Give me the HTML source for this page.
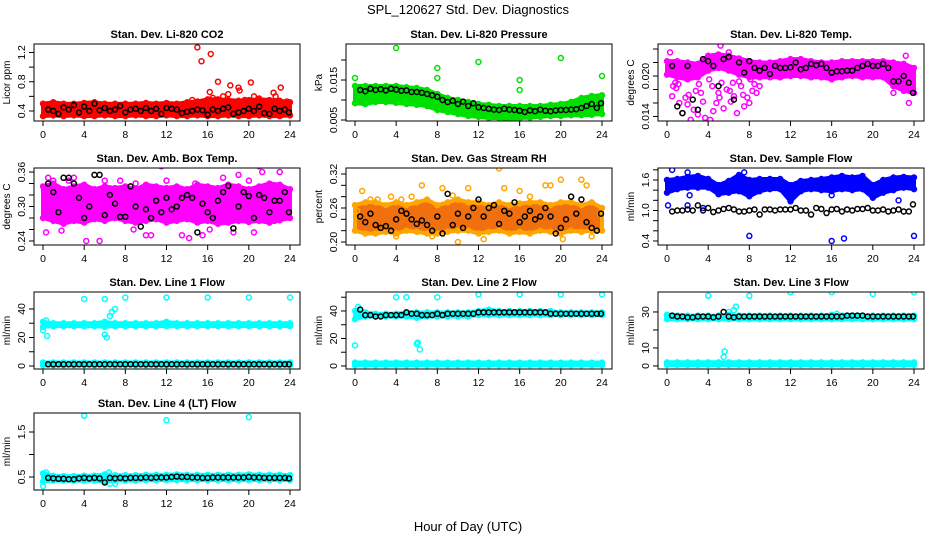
<!DOCTYPE html>
<html><head><meta charset="utf-8"><style>
body{margin:0;background:#fff;}
svg{display:block;font-family:"Liberation Sans",sans-serif;}
</style></head><body>
<svg id="chart" width="936" height="540" viewBox="0 0 936 540">
<rect x="0" y="0" width="936" height="540" fill="#fff"/>
<text x="468" y="14" text-anchor="middle" font-size="13">SPL_120627  Std. Dev. Diagnostics</text>
<text x="468" y="531" text-anchor="middle" font-size="13">Hour of Day (UTC)</text>
</svg>
<script>
// ---------- data ----------
const HOURS = [0,1,2,3,4,5,6,7,8,9,10,11,12,13,14,15,16,17,18,19,20,21,22,23,24];
const HALF_HOURS = [0.5,1,1.5,2,2.5,3,3.5,4,4.5,5,5.5,6,6.5,7,7.5,8,8.5,9,9.5,10,10.5,11,11.5,12,12.5,13,13.5,14,14.5,15,15.5,16,16.5,17,17.5,18,18.5,19,19.5,20,20.5,21,21.5,22,22.5,23,23.5,23.9];
const XTICKS = [0,4,8,12,16,20,24];

// P1 CO2
const co2Lo = [0.33,0.34,0.33,0.34,0.33,0.33,0.34,0.33,0.33,0.34,0.33,0.33,0.34,0.33,0.33,0.34,0.33,0.33,0.34,0.33,0.33,0.34,0.33,0.33,0.34];
const co2Hi = [0.50,0.52,0.50,0.50,0.51,0.52,0.50,0.50,0.50,0.50,0.51,0.50,0.51,0.50,0.52,0.53,0.56,0.56,0.55,0.54,0.55,0.56,0.55,0.54,0.52];
const co2OutX = [15,15.4,16.3,17,18.2,20.2,19,19.1,22.4,22.6,23.1,16.2,17.5,18,20.5,21,14.5,23.7,16.5,19.6];
const co2OutY = [1.27,1.08,1.18,0.80,0.75,0.79,0.72,0.68,0.65,0.60,0.72,0.66,0.60,0.63,0.60,0.57,0.55,0.53,0.58,0.55];
const co2Blk = [0.42,0.40,0.36,0.45,0.42,0.48,0.38,0.46,0.40,0.50,0.41,0.44,0.40,0.42,0.47,0.38,0.42,0.43,0.40,0.44,0.40,0.43,0.36,0.44,0.43,0.42,0.37,0.39,0.40,0.42,0.41,0.35,0.42,0.40,0.43,0.45,0.36,0.38,0.40,0.43,0.40,0.46,0.37,0.36,0.43,0.40,0.42,0.38];
// P2 pressure
const prLo = [0.0092,0.009,0.0095,0.0095,0.0093,0.009,0.0088,0.0085,0.0075,0.007,0.0065,0.006,0.0058,0.0055,0.0055,0.0052,0.0055,0.0056,0.0058,0.006,0.006,0.0062,0.0062,0.0063,0.0065];
const prHi = [0.0135,0.0135,0.0135,0.0135,0.0135,0.0132,0.013,0.0125,0.0115,0.0105,0.01,0.0095,0.009,0.0088,0.0085,0.0085,0.0085,0.0085,0.0085,0.0088,0.009,0.0095,0.0105,0.011,0.0112];
const prOutX = [0,4,8,8,12,16,16,20,24];
const prOutY = [0.0155,0.023,0.018,0.0155,0.0195,0.015,0.0125,0.0205,0.016];
const prBlk = [0.0125,0.0122,0.0128,0.0125,0.0127,0.0124,0.0128,0.0126,0.0123,0.0124,0.0120,0.0120,0.0118,0.0115,0.0112,0.0108,0.0100,0.0095,0.0098,0.0090,0.0096,0.0085,0.0092,0.0082,0.0080,0.0078,0.0076,0.0075,0.0078,0.0076,0.0075,0.0073,0.0070,0.0074,0.0072,0.0076,0.0073,0.0072,0.0074,0.0075,0.0075,0.0076,0.0077,0.0080,0.0085,0.0090,0.0080,0.0092];
// P3 Li-820 temp
const tLo = [0.0202,0.0198,0.0195,0.0198,0.0208,0.0212,0.0208,0.0202,0.0198,0.0198,0.0198,0.0198,0.02,0.02,0.0198,0.0198,0.0195,0.0198,0.02,0.0198,0.0198,0.0198,0.0185,0.0178,0.0175];
const tHi = [0.0222,0.0222,0.022,0.0218,0.0230,0.0232,0.0230,0.0226,0.0222,0.022,0.022,0.0222,0.0225,0.0225,0.0222,0.022,0.022,0.0222,0.0222,0.0222,0.0222,0.0222,0.022,0.0218,0.0212];
const tOutX = [0.5,0.8,1.2,1.5,2,2.3,2.6,3,3.3,3.7,4.2,4.5,4.8,5,5.5,5.8,6.2,6.5,6.8,7.2,7.5,8,8.3,8.7,5.2,6,0.3,22,23.2,23.5,0.9,1.8,2.8,3.5,4.4,5.3,6.1,7,7.8,8.5,9,1.1,2.1,3.1,4.1,5.1,6.4,7.4,8.1,0.6];
const tOutY = [0.017,0.019,0.016,0.0145,0.0158,0.0135,0.015,0.0143,0.0175,0.0138,0.0135,0.0148,0.016,0.0175,0.0152,0.018,0.0162,0.017,0.0145,0.0185,0.0155,0.016,0.0178,0.0175,0.0245,0.0235,0.0235,0.0175,0.023,0.016,0.0182,0.0168,0.0178,0.0162,0.0185,0.0190,0.0178,0.0192,0.0168,0.0188,0.0185,0.0188,0.0172,0.0188,0.0195,0.0168,0.0190,0.0172,0.0195,0.0185];
const tBlk = [0.0215,0.0155,0.0145,0.0215,0.0165,0.015,0.0225,0.0222,0.0215,0.0185,0.0225,0.0228,0.0165,0.022,0.0205,0.0222,0.0212,0.0208,0.0212,0.0203,0.0215,0.0212,0.0212,0.0213,0.0220,0.0210,0.0212,0.0218,0.0216,0.0218,0.0212,0.0205,0.0207,0.0207,0.0208,0.0208,0.0212,0.0215,0.0218,0.0215,0.0215,0.0218,0.0212,0.0192,0.0192,0.0200,0.0190,0.0175];
// P4 amb box temp
const abLo = [0.28,0.275,0.27,0.275,0.272,0.278,0.275,0.28,0.275,0.272,0.275,0.278,0.272,0.275,0.278,0.272,0.275,0.27,0.272,0.275,0.273,0.275,0.272,0.276,0.28];
const abHi = [0.335,0.34,0.33,0.335,0.338,0.33,0.335,0.332,0.335,0.33,0.338,0.335,0.332,0.335,0.33,0.338,0.335,0.332,0.338,0.335,0.33,0.335,0.34,0.338,0.33];
const abOutX = [0.3,0.5,1.8,2.5,4.2,5.5,7.5,8.8,10,10.5,11.5,13.5,14.2,15.5,16.5,18.5,20.5,21,21.3,22.5,23.5,16.2,19,23,1,3,6,9,12,14.8,17.5,20];
const abOutY = [0.255,0.35,0.258,0.345,0.24,0.24,0.345,0.26,0.25,0.25,0.37,0.25,0.245,0.25,0.275,0.255,0.255,0.37,0.36,0.275,0.28,0.26,0.355,0.36,0.345,0.35,0.345,0.34,0.345,0.34,0.35,0.345];
const abBlk = [0.34,0.325,0.29,0.35,0.35,0.34,0.315,0.28,0.30,0.355,0.355,0.285,0.32,0.305,0.282,0.282,0.335,0.30,0.265,0.295,0.28,0.31,0.29,0.315,0.295,0.30,0.315,0.32,0.315,0.255,0.305,0.29,0.28,0.31,0.325,0.336,0.262,0.30,0.325,0.318,0.28,0.32,0.315,0.29,0.31,0.31,0.325,0.29];
// P5 RH
const rhLo = [0.22,0.215,0.215,0.218,0.215,0.22,0.218,0.215,0.215,0.218,0.22,0.22,0.215,0.218,0.22,0.215,0.218,0.215,0.22,0.218,0.215,0.22,0.218,0.22,0.22];
const rhHi = [0.265,0.27,0.27,0.265,0.27,0.265,0.27,0.275,0.265,0.27,0.275,0.27,0.27,0.265,0.27,0.265,0.268,0.27,0.27,0.265,0.27,0.27,0.265,0.27,0.26];
const rhOutX = [0.2,0.7,1.5,2.2,3.5,4,4.5,5.5,6.5,7.5,8.5,9.5,10,11,12.5,14,14.5,16,17,18.5,19,20,20.2,22,22.5,23,23.8];
const rhOutY = [0.255,0.29,0.275,0.275,0.28,0.21,0.275,0.28,0.30,0.21,0.295,0.282,0.20,0.295,0.205,0.33,0.295,0.29,0.28,0.30,0.30,0.31,0.205,0.31,0.30,0.21,0.25];
const rhBlk = [0.245,0.235,0.25,0.23,0.225,0.228,0.22,0.24,0.255,0.25,0.24,0.232,0.238,0.23,0.22,0.245,0.215,0.285,0.23,0.25,0.225,0.245,0.26,0.275,0.245,0.26,0.265,0.232,0.255,0.25,0.27,0.235,0.245,0.255,0.240,0.245,0.26,0.245,0.215,0.225,0.24,0.28,0.25,0.275,0.235,0.225,0.22,0.25];
// P6 sample flow
const sfLo = [1.35,1.42,1.45,1.45,1.45,1.32,1.35,1.38,1.28,1.38,1.42,1.42,1.18,1.38,1.42,1.4,1.38,1.42,1.4,1.42,1.25,1.35,1.4,1.45,1.42];
const sfHi = [1.6,1.62,1.66,1.68,1.62,1.5,1.58,1.7,1.6,1.62,1.62,1.62,1.5,1.58,1.6,1.62,1.65,1.68,1.65,1.68,1.5,1.6,1.65,1.66,1.65];
const sfOutX = [0.5,2,8,16,17.2,24,0.1,2,3.5,16,22.5,2.2,7.5,12.1];
const sfOutY = [1.8,1.75,0.5,0.4,0.45,0.5,1.1,1.1,1.05,1.3,1.2,1.3,1.75,1.25];
const sfBlk = [0.98,1.0,1.0,1.02,1.0,1.1,1.0,1.05,0.97,1.0,1.03,1.05,1.02,0.98,0.98,1.0,1.02,0.92,1.02,1.02,1.0,1.02,1.02,1.02,1.05,1.0,1.0,0.92,1.05,1.03,0.95,1.02,1.03,0.98,1.02,1.0,1.03,1.03,1.05,1.0,1.0,1.02,0.98,1.0,1.02,0.98,0.98,1.12];
// P7 line 1
const l1Lo = [27.5,28,28,28,28,28,27.5,28,28,28,28,28,28,28,28,28,28,28,28,28,28,28,28,28,28];
const l1Hi = [31,30,30,30,30,30,31,30,30,30,30,30,31,30,30,30,30,30,30,30,30,30,30,30,30];
const l1BLo = [0.5,0.5,0.5,0.5,0.5,0.5,0.5,0.5,0.5,0.5,0.5,0.5,0.5,0.5,0.5,0.5,0.5,0.5,0.5,0.5,0.5,0.5,0.5,0.5,0.5];
const l1BHi = [2.5,2.5,2.5,2.5,2.5,2.5,2.5,2.5,2.5,2.5,2.5,2.5,2.5,2.5,2.5,2.5,2.5,2.5,2.5,2.5,2.5,2.5,2.5,2.5,2.5];
const l1OutX = [4,6,8,12,16,20,24,0,0.3,0.4,6,6.2,6.5,6.7,7,0.1];
const l1OutY = [47,47,48,48,48,48,48,25,32,21,22,20,35,38,40,30];
const l1Blk = [1.2,1.2,1.2,1.2,1.2,1.2,1.2,1.2,1.2,1.2,1.2,1.2,1.2,1.2,1.2,1.2,1.2,1.2,1.2,1.2,1.2,1.2,1.2,1.2,1.2,1.2,1.2,1.2,1.2,1.2,1.2,1.2,1.2,1.2,1.2,1.2,1.2,1.2,1.2,1.2,1.2,1.2,1.2,1.2,1.2,1.2,1.2,1.2];
// P8 line 2
const l2Lo = [34,36,36,36,36,36,35,36,36,36,36,36,37,37,37,37,37,37,37,37,37,37,37,37,37];
const l2Hi = [40,39,38,38,38,39,39,39,39,39,39,39,40,41,40,40,40,40,40,40,39,39,39,39,39];
const l2BLo = [0.5,0.5,0.5,0.5,0.5,0.5,0.5,0.5,0.5,0.5,0.5,0.5,0.5,0.5,0.5,0.5,0.5,0.5,0.5,0.5,0.5,0.5,0.5,0.5,0.5];
const l2BHi = [2.5,2.5,2.5,2.5,2.5,2.5,2.5,2.5,2.5,2.5,2.5,2.5,2.5,2.5,2.5,2.5,2.5,2.5,2.5,2.5,2.5,2.5,2.5,2.5,2.5];
const l2OutX = [0,0.3,4,5,6,6.1,6.3,8,12,16,20,24];
const l2OutY = [15,43,50,50,16,17,12,50,52,52,52,52];
const l2Blk = [41,37,37,36,36,37,37,37,37,39,38,38,37,37,37,38,37,38,38,38,38,38,38,39,39,39,39,39,39,39,39,39,39,39,39,39,39,38,38,38,38,38,38,38,38,38,38,38];
// P9 line 3
const l3Lo = [26,26,26,26,26,26,26,26,26,26,26,26,26,26,26,26,26,26,26,26,26,26,26,26,26];
const l3Hi = [28.5,28,28,28,28,28,28.5,28,28,28,28,28,28,28,28,28,28.5,28,28,28,28,28,28,28,28];
const l3BLo = [0.5,0.5,0.5,0.5,0.5,0.5,0.5,0.5,0.5,0.5,0.5,0.5,0.5,0.5,0.5,0.5,0.5,0.5,0.5,0.5,0.5,0.5,0.5,0.5,0.5];
const l3BHi = [2,2,2,2,2,2,2,2,2,2,2,2,2,2,2,2,2,2,2,2,2,2,2,2,2];
const l3OutX = [0,4,5.5,5.6,6,6.5,6.7,8,12,16,20,24,16.5];
const l3OutY = [28,39,5,8,30,31,33,39,41,41,40,41,29];
const l3Blk = [28,27.5,27.5,27,27,27.5,27.5,27.5,27,27.5,30,27.5,27,27.5,27.5,27.5,27.5,27.5,27.5,27.5,27.5,27.5,27.5,27.5,27.5,27.5,27.5,27.5,27.5,27.5,27.5,27.5,27.5,27.5,28,28,28,28,27.5,27.5,27.5,27.5,27.5,27.5,27.5,27.5,27.5,27.5];
// P10 line 4
const l4Lo = [0.40,0.42,0.42,0.42,0.42,0.42,0.40,0.42,0.42,0.42,0.43,0.43,0.43,0.43,0.43,0.43,0.43,0.43,0.43,0.43,0.43,0.43,0.43,0.43,0.43];
const l4Hi = [0.58,0.53,0.52,0.52,0.53,0.53,0.56,0.54,0.54,0.54,0.55,0.55,0.55,0.56,0.55,0.55,0.55,0.55,0.55,0.55,0.56,0.55,0.55,0.55,0.54];
const l4OutX = [0,4,12,20,0.3,6.4,6.5,7];
const l4OutY = [0.3,1.86,1.76,1.83,0.6,0.6,0.35,0.35];
const l4Blk = [0.48,0.47,0.46,0.46,0.45,0.45,0.47,0.48,0.47,0.48,0.47,0.38,0.48,0.47,0.48,0.47,0.48,0.48,0.48,0.49,0.48,0.49,0.49,0.49,0.50,0.51,0.50,0.50,0.49,0.49,0.48,0.48,0.49,0.49,0.49,0.49,0.49,0.49,0.49,0.50,0.49,0.49,0.48,0.48,0.48,0.48,0.48,0.47];

// ---------- layout ----------
const COLS = [34,346,658], W = 266, ROWS = [44,168,292,413], H = 77;
const panels = [
 {name:'co2',title:'Stan. Dev. Li-820 CO2',ylab:'Licor ppm',c:0,r:0,ylim:[0.263,1.316],ticks:[0.4,0.6,0.8,1.0,1.2],labels:[0.4,0.8,1.2],dec:1,col:'#ff0000',bands:[[co2Lo,co2Hi]],ox:co2OutX,oy:co2OutY,blk:co2Blk},
 {name:'pressure',title:'Stan. Dev. Li-820 Pressure',ylab:'kPa',c:1,r:0,ylim:[0.00475,0.024],ticks:[0.005,0.01,0.015,0.02],labels:[0.005,0.015],dec:3,col:'#00e000',bands:[[prLo,prHi]],ox:prOutX,oy:prOutY,blk:prBlk},
 {name:'li820-temp',title:'Stan. Dev. Li-820 Temp.',ylab:'degrees C',c:2,r:0,ylim:[0.01333,0.02474],ticks:[0.014,0.016,0.018,0.02,0.022,0.024],labels:[0.014,0.02],dec:3,col:'#ff00ff',bands:[[tLo,tHi]],ox:tOutX,oy:tOutY,blk:tBlk},
 {name:'amb-box-temp',title:'Stan. Dev. Amb. Box Temp.',ylab:'degrees C',c:0,r:1,ylim:[0.233,0.367],ticks:[0.24,0.26,0.28,0.3,0.32,0.34,0.36],labels:[0.24,0.3,0.36],dec:2,col:'#ff00ff',bands:[[abLo,abHi]],ox:abOutX,oy:abOutY,blk:abBlk},
 {name:'gas-rh',title:'Stan. Dev. Gas Stream RH',ylab:'percent',c:1,r:1,ylim:[0.1947,0.3306],ticks:[0.2,0.22,0.24,0.26,0.28,0.3,0.32],labels:[0.2,0.26,0.32],dec:2,col:'#ffa500',fill:'#f07010',bands:[[rhLo,rhHi]],ox:rhOutX,oy:rhOutY,blk:rhBlk},
 {name:'sample-flow',title:'Stan. Dev. Sample Flow',ylab:'ml/min',c:2,r:1,ylim:[0.321,1.836],ticks:[0.4,0.6,0.8,1.0,1.2,1.4,1.6,1.8],labels:[0.4,1.0,1.6],dec:1,col:'#0000ff',bands:[[sfLo,sfHi]],ox:sfOutX,oy:sfOutY,blk:sfBlk},
 {name:'line1-flow',title:'Stan. Dev. Line 1 Flow',ylab:'ml/min',c:0,r:2,ylim:[-2.1,51.9],ticks:[0,10,20,30,40],labels:[0,20,40],dec:0,col:'#00ffff',bands:[[l1Lo,l1Hi],[l1BLo,l1BHi]],ox:l1OutX,oy:l1OutY,blk:l1Blk},
 {name:'line2-flow',title:'Stan. Dev. Line 2 Flow',ylab:'ml/min',c:1,r:2,ylim:[-2.2,53.8],ticks:[0,10,20,30,40,50],labels:[0,20,40],dec:0,col:'#00ffff',bands:[[l2Lo,l2Hi],[l2BLo,l2BHi]],ox:l2OutX,oy:l2OutY,blk:l2Blk},
 {name:'line3-flow',title:'Stan. Dev. Line 3 Flow',ylab:'ml/min',c:2,r:2,ylim:[-1.7,41.1],ticks:[0,10,20,30],labels:[0,10,30],dec:0,col:'#00ffff',bands:[[l3Lo,l3Hi],[l3BLo,l3BHi]],ox:l3OutX,oy:l3OutY,blk:l3Blk},
 {name:'line4-flow',title:'Stan. Dev. Line 4 (LT) Flow',ylab:'ml/min',c:0,r:3,ylim:[0.211,1.922],ticks:[0.5,1.0,1.5],labels:[0.5,1.5],dec:1,col:'#00ffff',bands:[[l4Lo,l4Hi]],ox:l4OutX,oy:l4OutY,blk:l4Blk}
];

const NS = 'http://www.w3.org/2000/svg';
const svg = document.getElementById('chart');
function mk(tag, attrs, parent){ const e=document.createElementNS(NS,tag); for(const k in attrs) e.setAttribute(k,attrs[k]); (parent||svg).appendChild(e); return e; }

panels.forEach(p=>{
  const L = COLS[p.c], T = ROWS[p.r], B = T+H;
  const g = mk('g',{});
  
  
  const xs = h => L + 9 + h*(247/24);
  const ys = v => B - (v - p.ylim[0])/(p.ylim[1]-p.ylim[0])*H;
  const cid = 'clip-'+p.name;
  const cp = mk('clipPath',{id:cid},g); mk('rect',{x:L,y:T,width:W,height:H},cp);
  const data = mk('g',{'clip-path':'url(#'+cid+')'},g);
  
  
  p.bands.forEach(bd=>{
    const lo=bd[0], hi=bd[1];
    let pts=[];
    HOURS.forEach((h,i)=>pts.push(xs(h).toFixed(1)+','+ys(hi[i]).toFixed(1)));
    for(let i=HOURS.length-1;i>=0;i--) pts.push(xs(HOURS[i]).toFixed(1)+','+ys(lo[i]).toFixed(1));
    const poly = mk('polygon',{points:pts.join(' '),fill:p.fill||p.col,stroke:p.col,'stroke-width':4,'stroke-linejoin':'round'},data);
    
    
    HOURS.forEach((h,i)=>{
      [lo[i],hi[i]].forEach(v=>{
        const c = mk('circle',{cx:xs(h),cy:ys(v),r:2.5,fill:'none',stroke:p.col,'stroke-width':1.4},data);
        
        
      });
    });
  });
  p.ox.forEach((h,i)=>{
    const c = mk('circle',{cx:xs(h),cy:ys(p.oy[i]),r:2.5,fill:'none',stroke:p.col,'stroke-width':1.5},data);
    
    
  });
  p.blk.forEach((v,i)=>{
    if(i>=HALF_HOURS.length) return;
    const c = mk('circle',{cx:xs(HALF_HOURS[i]),cy:ys(v),r:2.5,fill:'none',stroke:'#000','stroke-width':1.5},data);
    
    
  });
  const box = mk('rect',{x:L,y:T,width:W,height:H,fill:'none',stroke:'#000','stroke-width':1},g);
  
  
  const t = mk('text',{x:L+W/2,y:T-6,'text-anchor':'middle','font-size':11,'font-weight':'bold'},g);
  t.textContent = p.title;
  
  
  const xa = mk('g',{},g);
  
  
  XTICKS.forEach(h=>{
    mk('line',{x1:xs(h),x2:xs(h),y1:B,y2:B+5,stroke:'#000'},xa);
    const tx = mk('text',{x:xs(h),y:B+17,'text-anchor':'middle','font-size':10.5},xa);
    tx.textContent = h;
  });
  const ya = mk('g',{},g);
  
  
  p.ticks.forEach(v=>{ mk('line',{x1:L-5,x2:L,y1:ys(v),y2:ys(v),stroke:'#000'},ya); });
  p.labels.forEach(v=>{
    const y=ys(v), x=L-9;
    const tx = mk('text',{x:x,y:y,'text-anchor':'middle','font-size':10.5,transform:'rotate(-90 '+x+' '+y+')'},ya);
    tx.textContent = v.toFixed(p.dec);
  });
  const yl = mk('text',{x:L-24,y:T+H/2,'text-anchor':'middle','font-size':10,transform:'rotate(-90 '+(L-24)+' '+(T+H/2)+')'},g);
  yl.textContent = p.ylab;
  
  
});
</script>
</body></html>
